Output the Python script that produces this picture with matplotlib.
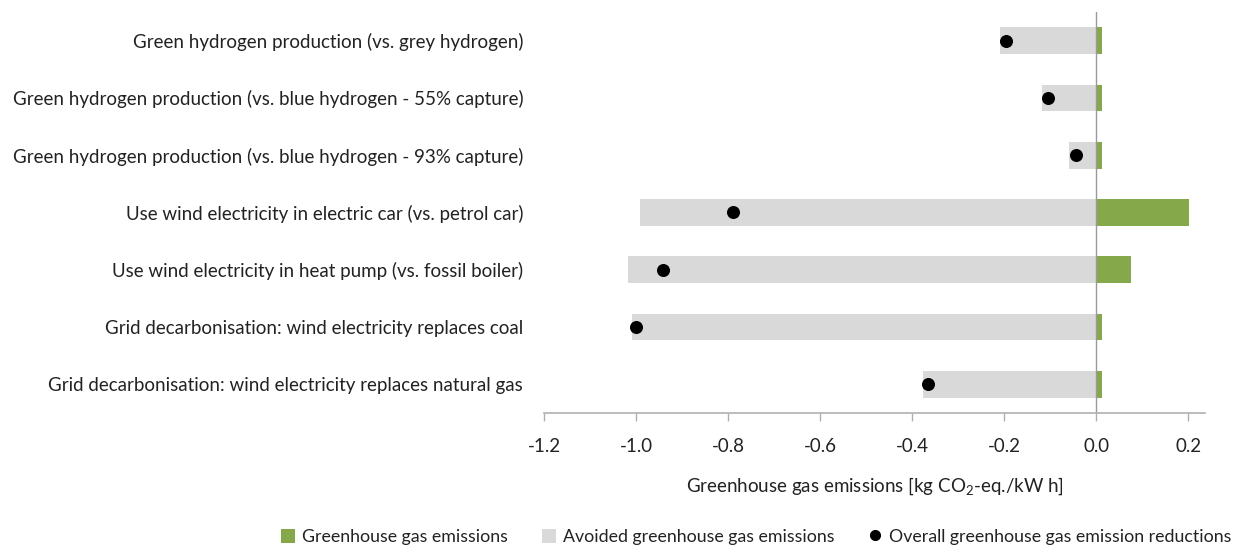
import matplotlib
matplotlib.use("Agg")
import matplotlib.pyplot as plt
import numpy as np
from matplotlib.patches import Patch
from matplotlib.lines import Line2D

plt.rcParams['font.family'] = ['Lato', 'DejaVu Sans']
plt.rcParams['mathtext.fontset'] = 'custom'
plt.rcParams['mathtext.rm'] = 'Lato'
plt.rcParams['mathtext.default'] = 'regular'

categories = [
    "Green hydrogen production (vs. grey hydrogen)",
    "Green hydrogen production (vs. blue hydrogen - 55% capture)",
    "Green hydrogen production (vs. blue hydrogen - 93% capture)",
    "Use wind electricity in electric car (vs. petrol car)",
    "Use wind electricity in heat pump (vs. fossil boiler)",
    "Grid decarbonisation: wind electricity replaces coal",
    "Grid decarbonisation: wind electricity replaces natural gas",
]
emissions = [0.013, 0.013, 0.013, 0.202, 0.076, 0.013, 0.013]
avoided = [-0.209, -0.118, -0.058, -0.991, -1.017, -1.009, -0.376]
overall = [-0.195, -0.104, -0.043, -0.789, -0.942, -1.000, -0.365]
xticks = [-1.2, -1.0, -0.8, -0.6, -0.4, -0.2, 0.0, 0.2]

green = '#84a84a'
grey = '#d9d9d9'
axis_col = '#b0b0b0'
text_col = '#222222'

fig = plt.figure(figsize=(12.45, 5.49), dpi=100)
ax = fig.add_axes([0.437, 0.248, 0.531, 0.730])

y = np.arange(len(categories))
h = 0.47
ax.barh(y, avoided, height=h, color=grey, zorder=1)
ax.barh(y, emissions, height=h, color=green, zorder=1)
ax.scatter(overall, y, s=70, color='black', zorder=3)
ax.axvline(0, color='#999999', lw=1.0, zorder=2)

ax.set_xlim(-1.2, 0.237)
ax.set_ylim(6.5, -0.5)
ax.set_yticks(y)
ax.set_yticklabels(categories, fontsize=13.5, color=text_col)
ax.tick_params(axis='y', length=0, pad=15)
ax.set_xticks(xticks)
ax.set_xticklabels([f"{v:.1f}" for v in xticks], fontsize=13.5, color=text_col)
ax.tick_params(axis='x', direction='out', length=6, color=axis_col, width=1, pad=12)

for s in ['top', 'right', 'left']:
    ax.spines[s].set_visible(False)
ax.spines['bottom'].set_color(axis_col)
ax.spines['bottom'].set_linewidth(1.2)

ax.set_xlabel(r'Greenhouse gas emissions [kg CO$_2$-eq./kW h]', fontsize=13.5,
              color=text_col, labelpad=15)

handles = [
    Patch(facecolor=green, label='Greenhouse gas emissions'),
    Patch(facecolor=grey, label='Avoided greenhouse gas emissions'),
    Line2D([0], [0], marker='o', color='none', markerfacecolor='black',
           markeredgecolor='black', markersize=7,
           label='Overall greenhouse gas emission reductions'),
]
fig.legend(handles=handles, loc='lower right', bbox_to_anchor=(0.998, -0.012),
           ncol=3, frameon=False, fontsize=12.8, handlelength=0.8,
           handleheight=0.8, handletextpad=0.4, columnspacing=1.9,
           labelcolor=text_col, borderaxespad=0.2)

fig.savefig('out.png', dpi=100)
